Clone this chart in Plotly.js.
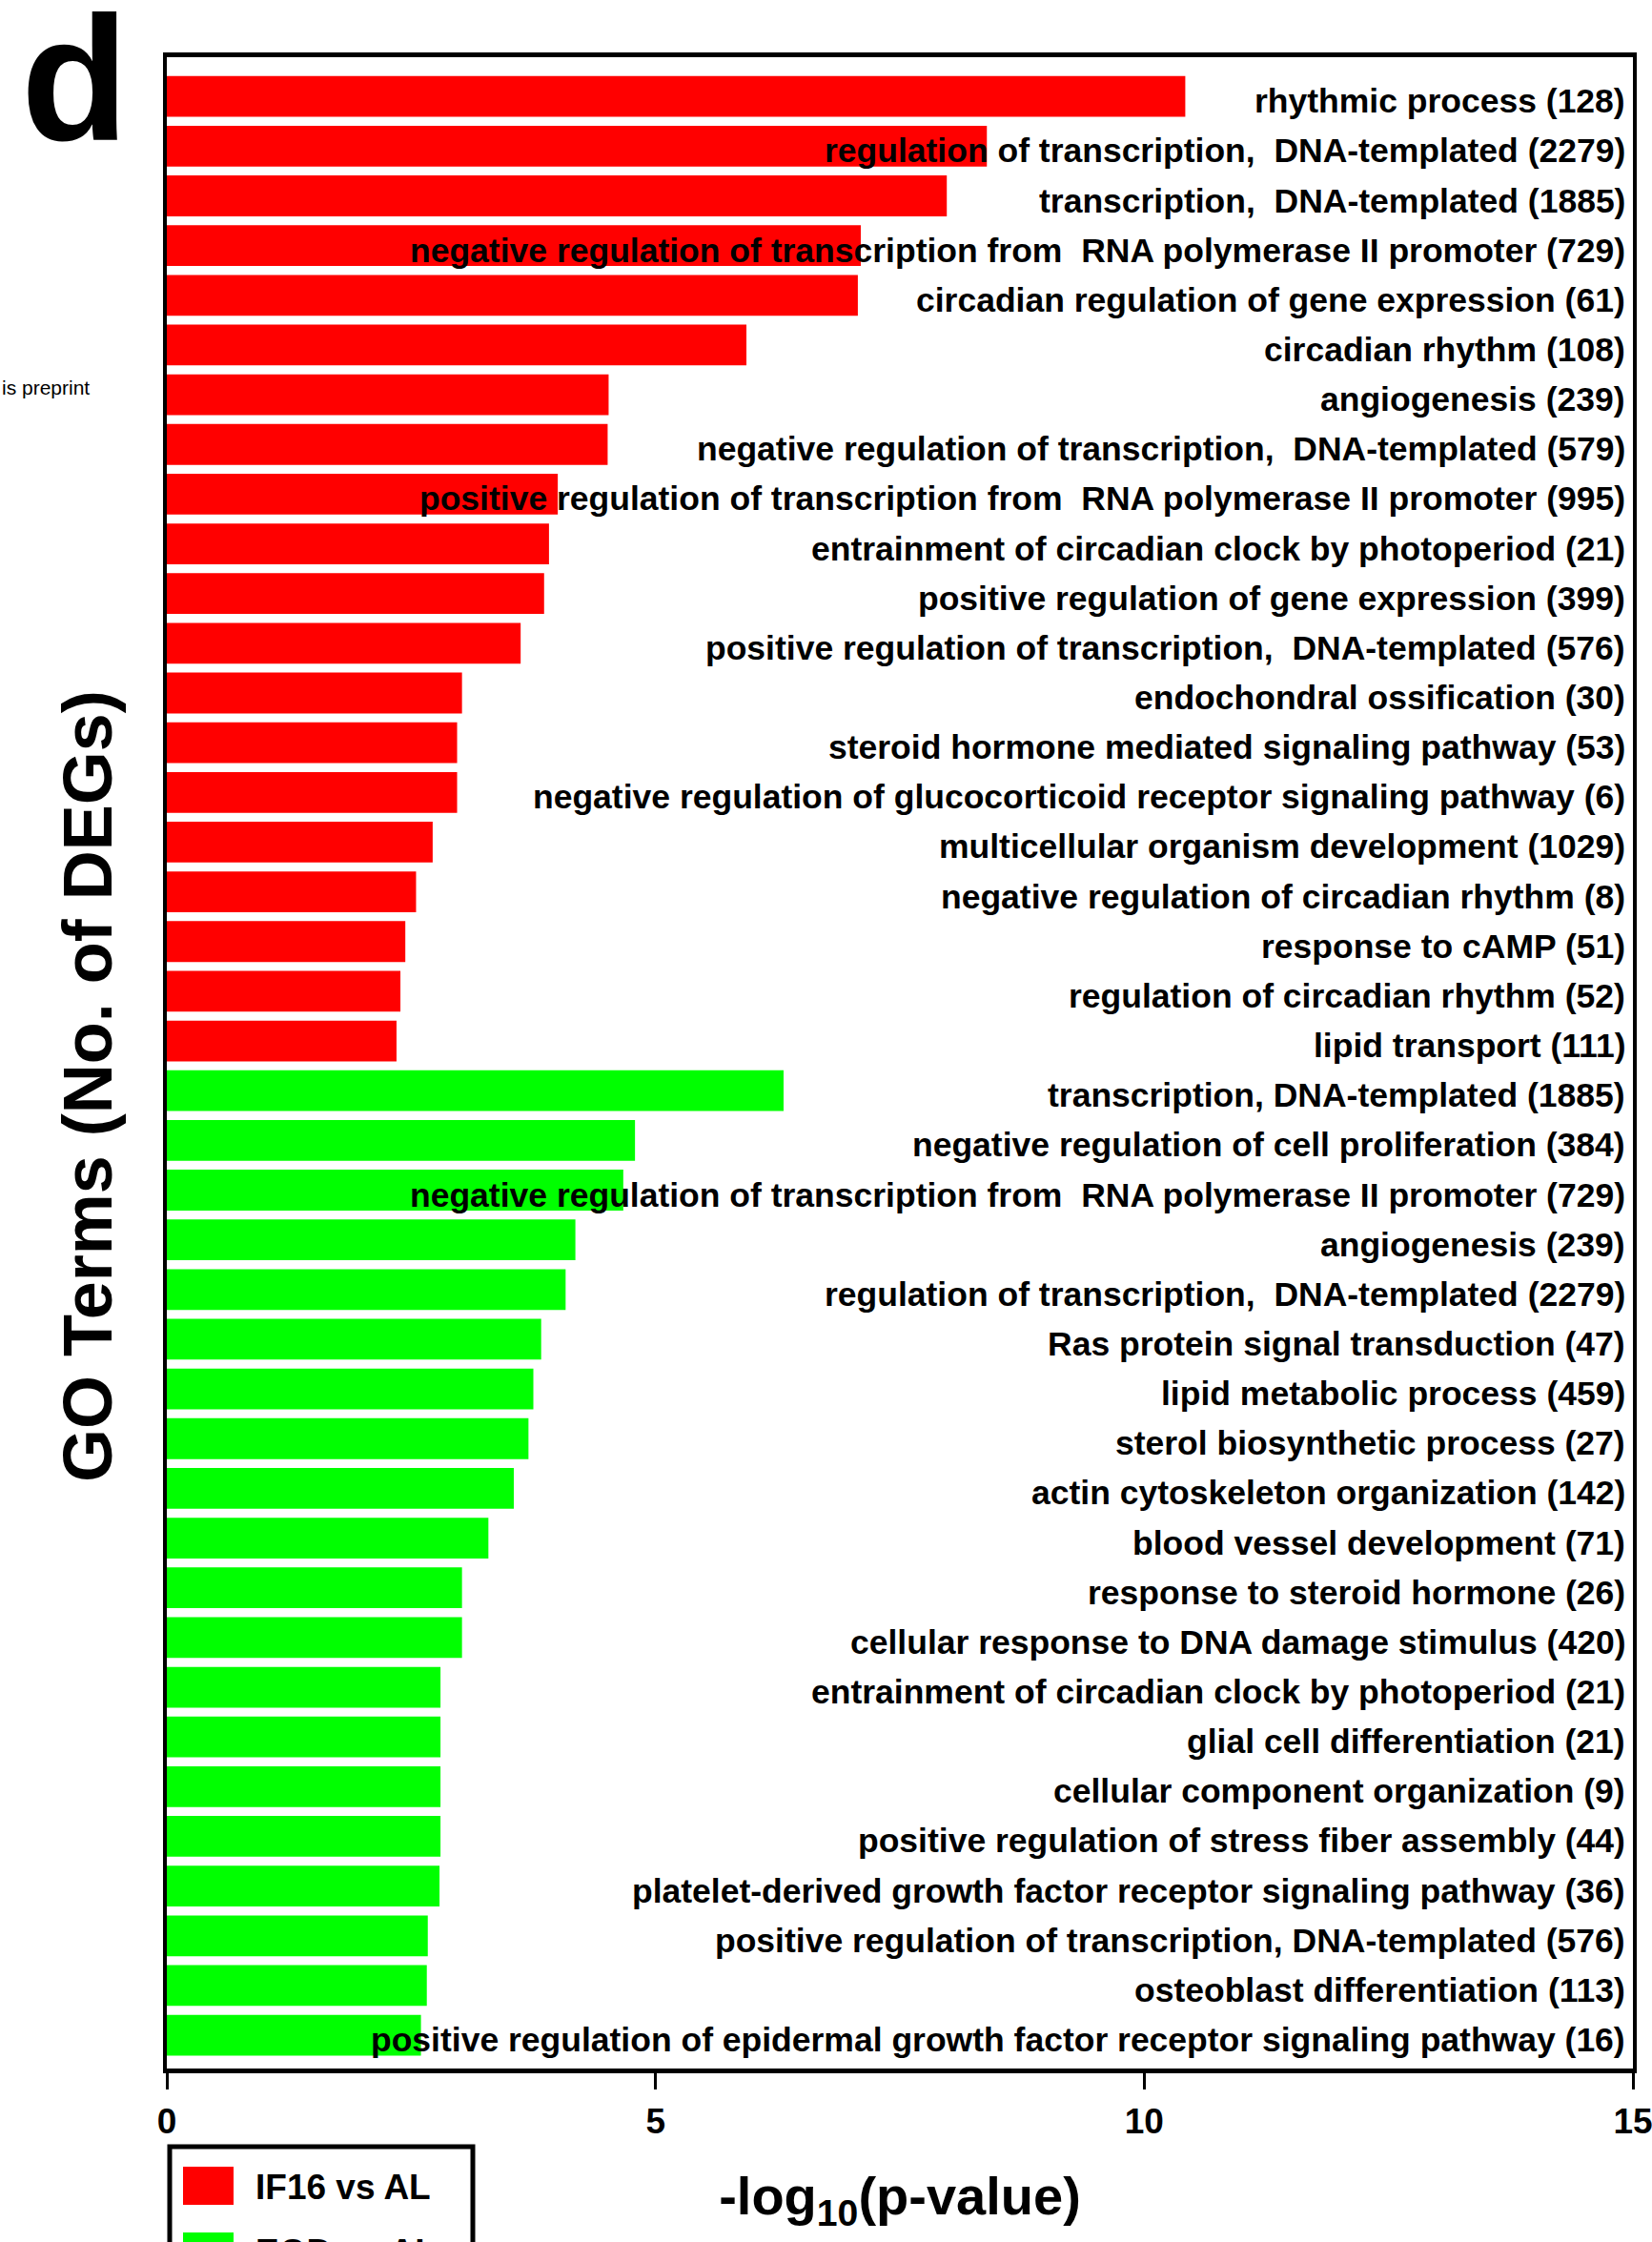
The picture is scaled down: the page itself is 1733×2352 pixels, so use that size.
<!DOCTYPE html>
<html>
<head>
<meta charset="utf-8">
<script src="https://cdn.plot.ly/plotly-3.0.1.min.js"></script>
<style>
html,body{margin:0;padding:0;background:#fff;}
#chart{width:1733px;height:2352px;}
</style>
</head>
<body>
<div id="chart"></div>
<script>
// ---------------- DATA ----------------
const seriesNames = ['IF16 vs AL', 'EOD vs AL'];

const termsIF16 = [
  'rhythmic process (128)',
  'regulation of transcription,\u00A0 DNA-templated (2279)',
  'transcription,\u00A0 DNA-templated (1885)',
  'negative regulation of transcription from\u00A0 RNA polymerase II promoter (729)',
  'circadian regulation of gene expression (61)',
  'circadian rhythm (108)',
  'angiogenesis (239)',
  'negative regulation of transcription,\u00A0 DNA-templated (579)',
  'positive regulation of transcription from\u00A0 RNA polymerase II promoter (995)',
  'entrainment of circadian clock by photoperiod (21)',
  'positive regulation of gene expression (399)',
  'positive regulation of transcription,\u00A0 DNA-templated (576)',
  'endochondral ossification (30)',
  'steroid hormone mediated signaling pathway (53)',
  'negative regulation of glucocorticoid receptor signaling pathway (6)',
  'multicellular organism development (1029)',
  'negative regulation of circadian rhythm (8)',
  'response to cAMP (51)',
  'regulation of circadian rhythm (52)',
  'lipid transport (111)'
];
const valuesIF16 = [10.42, 8.39, 7.98, 7.10, 7.07, 5.93, 4.52, 4.51, 4.00, 3.91,
                    3.86, 3.62, 3.02, 2.97, 2.97, 2.72, 2.55, 2.44, 2.39, 2.35];

const termsEOD = [
  'transcription, DNA-templated (1885)',
  'negative regulation of cell proliferation (384)',
  'negative regulation of transcription from\u00A0 RNA polymerase II promoter (729)',
  'angiogenesis (239)',
  'regulation of transcription,\u00A0 DNA-templated (2279)',
  'Ras protein signal transduction (47)',
  'lipid metabolic process (459)',
  'sterol biosynthetic process (27)',
  'actin cytoskeleton organization (142)',
  'blood vessel development (71)',
  'response to steroid hormone (26)',
  'cellular response to DNA damage stimulus (420)',
  'entrainment of circadian clock by photoperiod (21)',
  'glial cell differentiation (21)',
  'cellular component organization (9)',
  'positive regulation of stress fiber assembly (44)',
  'platelet-derived growth factor receptor signaling pathway (36)',
  'positive regulation of transcription, DNA-templated (576)',
  'osteoblast differentiation (113)',
  'positive regulation of epidermal growth factor receptor signaling pathway (16)'
];
const valuesEOD = [6.31, 4.79, 4.67, 4.18, 4.08, 3.83, 3.75, 3.70, 3.55, 3.29,
                   3.02, 3.02, 2.80, 2.80, 2.80, 2.80, 2.79, 2.67, 2.66, 2.60];

const xTickVals = [0, 5, 10, 15];
const xTickText = ['0', '5', '10', '15'];

// ---------------- STYLE / LAYOUT ----------------
const colors = ['#ff0000', '#00ff00'];
const arial = '"Liberation Sans", Arial, sans-serif';

const W = 1733, H = 2352;
const M = {l: 175, r: 20, t: 60, b: 182};
const plotW = W - M.l - M.r, plotH = H - M.t - M.b;
const px2x = px => (px - M.l) / plotW;
const py2y = py => (H - M.b - py) / plotH;

const yIF16 = termsIF16.map((_, i) => i);
const yEOD = termsEOD.map((_, i) => i + termsIF16.length);
const nAll = termsIF16.length + termsEOD.length;

const traces = [
  {type: 'bar', orientation: 'h', name: seriesNames[0], x: valuesIF16, y: yIF16,
   width: 0.82, marker: {color: colors[0], line: {width: 0}}, showlegend: false,
   hovertext: termsIF16, hoverinfo: 'text+x'},
  {type: 'bar', orientation: 'h', name: seriesNames[1], x: valuesEOD, y: yEOD,
   width: 0.82, marker: {color: colors[1], line: {width: 0}}, showlegend: false,
   hovertext: termsEOD, hoverinfo: 'text+x'}
];

const labelFont = {family: arial, size: 35.5, color: '#000', weight: 'bold'};
const annotations = [];
termsIF16.concat(termsEOD).forEach((t, i) => {
  annotations.push({xref: 'x', yref: 'y', x: 15, y: i, text: t, showarrow: false,
    xanchor: 'right', yanchor: 'middle', xshift: -6, yshift: -5, font: labelFont});
});

// panel letter and clipped side text
annotations.push({xref: 'paper', yref: 'paper', x: px2x(20), y: py2y(83), text: 'd',
  showarrow: false, xanchor: 'left', yanchor: 'middle',
  font: {family: arial, size: 185, color: '#000', weight: 'bold'}});
annotations.push({xref: 'paper', yref: 'paper', x: px2x(0), y: py2y(406), text: 'is preprint',
  showarrow: false, xanchor: 'left', yanchor: 'middle',
  font: {family: arial, size: 21, color: '#000'}});

// y-axis title (placed as a rotated annotation so it can sit off-centre like the original)
annotations.push({xref: 'paper', yref: 'paper', x: px2x(92), y: py2y(1140), text: 'GO Terms (No. of DEGs)',
  showarrow: false, textangle: -90, xanchor: 'center', yanchor: 'middle',
  font: {family: arial, size: 72, color: '#000', weight: 'bold'}});

// manual legend (large swatches)
const shapes = [
  {type: 'rect', xref: 'paper', yref: 'paper', x0: px2x(178), x1: px2x(496), y0: py2y(2252), y1: py2y(2420),
   line: {color: '#000', width: 5}, fillcolor: 'rgba(0,0,0,0)'}
];
const legY = [2293, 2362];
seriesNames.forEach((nm, k) => {
  shapes.push({type: 'rect', xref: 'paper', yref: 'paper', x0: px2x(192), x1: px2x(245),
    y0: py2y(legY[k] - 20), y1: py2y(legY[k] + 20), line: {width: 0}, fillcolor: colors[k]});
  annotations.push({xref: 'paper', yref: 'paper', x: px2x(266), y: py2y(legY[k] + 1), text: nm,
    showarrow: false, xanchor: 'left', yanchor: 'middle',
    font: {family: arial, size: 37, color: '#000', weight: 'bold'}});
});

const layout = {
  width: W, height: H,
  margin: M,
  paper_bgcolor: '#fff', plot_bgcolor: '#fff',
  barmode: 'overlay',
  showlegend: false,
  xaxis: {
    range: [0, 15], tickvals: xTickVals, ticktext: xTickText,
    ticks: 'outside', ticklen: 17, tickwidth: 3, tickcolor: '#000',
    showline: true, linewidth: 5, linecolor: '#000', mirror: true,
    showgrid: false, zeroline: false, automargin: false,
    ticklabelstandoff: 2, ticklabeloverflow: 'allow',
    tickfont: {family: arial, size: 37, color: '#000', weight: 'bold'},
    title: {text: '-log<sub>10</sub>(p-value)', standoff: 40,
      font: {family: arial, size: 56, color: '#000', weight: 'bold'}}
  },
  yaxis: {
    range: [nAll - 0.33, -0.79], showticklabels: false, ticks: '',
    showline: true, linewidth: 4, linecolor: '#000', mirror: true,
    showgrid: false, zeroline: false, automargin: false
  },
  annotations: annotations,
  shapes: shapes
};

Plotly.newPlot('chart', traces, layout, {staticPlot: true, displayModeBar: false});
</script>
</body>
</html>
